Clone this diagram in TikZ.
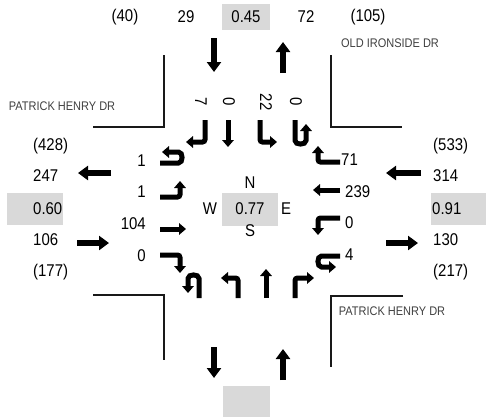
\documentclass[tikz,border=0pt]{standalone}
\usepackage{fontspec}
\setmainfont{Liberation Sans}[FakeStretch=0.88]
\usetikzlibrary{arrows.meta}
\tikzset{
  appr/.style={line width=6pt,-{Triangle[width=14pt,length=10pt]}},
  lane/.style={line width=5pt,rounded corners=2.5pt,-{Triangle[width=11.5pt,length=7pt]}},
  corner/.style={line width=1.8pt,black!90},
  num/.style={font=\fontsize{17}{20}\selectfont,inner sep=0pt},
  street/.style={font=\fontsize{12.5}{14}\selectfont,text=black!75,inner sep=0pt},
  gbox/.style={fill=gray!30,draw=none}
}
\begin{document}
\begin{tikzpicture}[x=1pt,y=-1pt]
\useasboundingbox (0,0) rectangle (486,418);
% gray boxes
\fill[gbox] (222,4) rectangle (270,30);
\fill[gbox] (7,193) rectangle (63,225);
\fill[gbox] (431,193) rectangle (486,225);
\fill[gbox] (222,193) rectangle (278,226);
\fill[gbox] (223,386) rectangle (270,417);
% top row
\node[num] (t1) at (125,17) {(40)};
\node[num] (t2) at (186,17) {29};
\node[num] (t3) at (246,17) {0.45};
\node[num] (t4) at (306,17) {72};
\node[num] (t5) at (368,17) {(105)};
% left column
\node[num,anchor=west] (l1) at (33,146) {(428)};
\node[num,anchor=west] (l2) at (33,176) {247};
\node[num,anchor=west] (l3) at (33,209) {0.60};
\node[num,anchor=west] (l4) at (33,240) {106};
\node[num,anchor=west] (l5) at (33,272) {(177)};
% right column
\node[num,anchor=west] (r1) at (433,146) {(533)};
\node[num,anchor=west] (r2) at (433,176) {314};
\node[num,anchor=west] (r3) at (432,209) {0.91};
\node[num,anchor=west] (r4) at (433,240) {130};
\node[num,anchor=west] (r5) at (433,272) {(217)};
% center
\node[num] (cn) at (250,183) {N};
\node[num] (cw) at (210,209) {W};
\node[num] (cv) at (250,209) {0.77};
\node[num] (ce) at (286,209) {E};
\node[num] (cs) at (250,231) {S};
% street names
\node[street] (s1) at (390,43) {OLD IRONSIDE DR};
\node[street] (s2) at (62,106) {PATRICK HENRY DR};
\node[street] (s3) at (392,311) {PATRICK HENRY DR};
% corner lines
\draw[corner] (164,55) -- (164,127) -- (93,127);
\draw[corner] (331,55) -- (331,127) -- (402,127);
\draw[corner] (93,295) -- (164,295) -- (164,360);
\draw[corner] (403,296) -- (331,296) -- (331,367);
% approach arrows
\draw[appr] (214,38) -- (214,72);
\draw[appr] (283,73) -- (283,42);
\draw[appr] (214,347) -- (214,378);
\draw[appr] (283,380) -- (283,349);
\draw[appr] (111,173) -- (78,173);
\draw[appr] (77,243) -- (109,243);
\draw[appr] (421,173) -- (386,173);
\draw[appr] (386,243) -- (418,243);
% left lane labels
\node[num,anchor=east] (el1) at (146,161) {1};
\node[num,anchor=east] (el2) at (146,192) {1};
\node[num,anchor=east] (el3) at (146,224) {104};
\node[num,anchor=east] (el4) at (146,256) {0};
% right lane labels
\node[num,anchor=west] (wl1) at (341,160) {71};
\node[num,anchor=west] (wl2) at (345,192) {239};
\node[num,anchor=west] (wl3) at (345,223) {0};
\node[num,anchor=west] (wl4) at (345,255) {4};
% top lane labels
\node[num,rotate=-90] (sl1) at (201,102) {7};
\node[num,rotate=-90] (sl2) at (229,102) {0};
\node[num,rotate=-90] (sl3) at (266,102) {22};
\node[num,rotate=-90] (sl4) at (296,102) {0};
% EB lane arrows
\draw[lane] (160,163) -- (176,163) .. controls (183.3,163) and (183.3,152) .. (176,152) -- (162,152);
\draw[lane] (160,197) -- (180,197) -- (180,181);
\draw[lane] (160,229) -- (186,229);
\draw[lane] (160,255) -- (180,255) -- (180,273);
% WB lane arrows
\draw[lane] (340,162) -- (318,162) -- (318,146);
\draw[lane] (340,190) -- (313,190);
\draw[lane] (340,218) -- (318,218) -- (318,235);
\draw[lane] (340,256) -- (324,256) .. controls (316.7,256) and (316.7,267) .. (324,267) -- (336,267);
% SB lane arrows
\draw[lane] (205,120) -- (205,142) -- (186,142);
\draw[lane] (228,120) -- (228,147);
\draw[lane] (260,120) -- (260,142) -- (277,142);
\draw[lane] (295,120) -- (295,138) .. controls (295,145.3) and (306,145.3) .. (306,138) -- (306,124);
% NB lane arrows
\draw[lane] (199,298) -- (199,281) .. controls (199,273.7) and (188,273.7) .. (188,281) -- (188,293);
\draw[lane] (238,298) -- (238,278) -- (221,278);
\draw[lane] (266,298) -- (266,269);
\draw[lane] (295,298) -- (295,278) -- (314,278);
\end{tikzpicture}
\end{document}
